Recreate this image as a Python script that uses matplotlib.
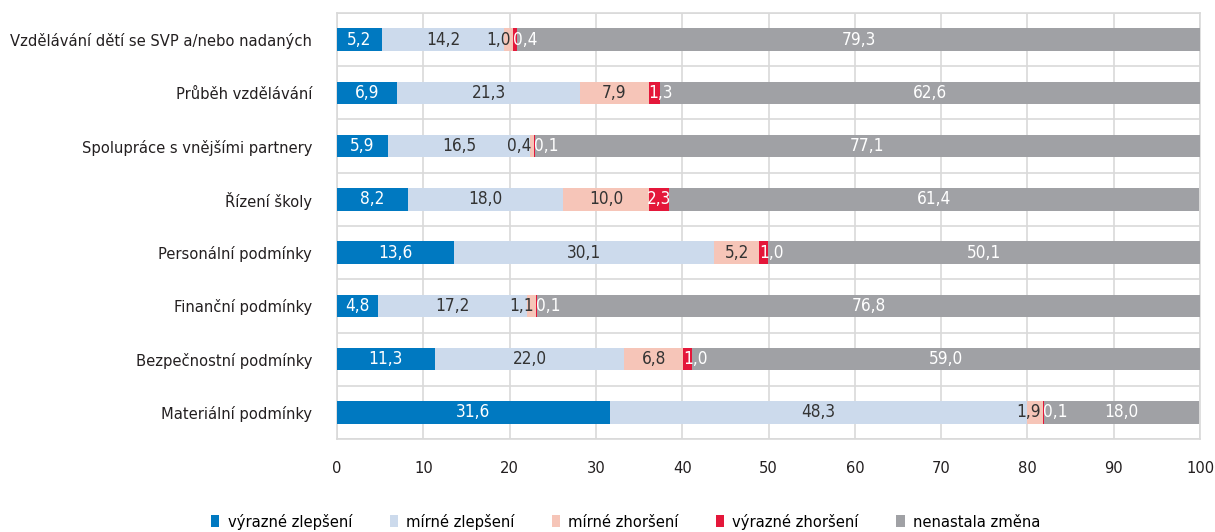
import numpy as np
import matplotlib
matplotlib.use("Agg")
from matplotlib import pyplot as plt
from matplotlib import font_manager
from matplotlib.font_manager import FontProperties
from matplotlib.patches import Patch

categories = [
    "Vzdělávání dětí se SVP a/nebo nadaných",
    "Průběh vzdělávání",
    "Spolupráce s vnějšími partnery",
    "Řízení školy",
    "Personální podmínky",
    "Finanční podmínky",
    "Bezpečnostní podmínky",
    "Materiální podmínky",
]
series_names = ["výrazné zlepšení", "mírné zlepšení", "mírné zhoršení",
                "výrazné zhoršení", "nenastala změna"]
vyrazne_zlepseni = [5.2, 6.9, 5.9, 8.2, 13.6, 4.8, 11.3, 31.6]
mirne_zlepseni = [14.2, 21.3, 16.5, 18.0, 30.1, 17.2, 22.0, 48.3]
mirne_zhorseni = [1.0, 7.9, 0.4, 10.0, 5.2, 1.1, 6.8, 1.9]
vyrazne_zhorseni = [0.4, 1.3, 0.1, 2.3, 1.0, 0.1, 1.0, 0.1]
nenastala_zmena = [79.3, 62.6, 77.1, 61.4, 50.1, 76.8, 59.0, 18.0]

colors = ["#0079C1", "#CCDAEC", "#F6C5B8", "#E4173A", "#A0A1A5"]
label_colors = ["white", "#333333", "#333333", "white", "white"]

series = [vyrazne_zlepseni, mirne_zlepseni, mirne_zhorseni,
          vyrazne_zhorseni, nenastala_zmena]


def pick_condensed_font():
    """Path of the narrowest regular sans face; the original uses a condensed one."""
    rank = {"extra-condensed": 0, "condensed": 1, "semi-condensed": 2}
    wanted = ["Noto Sans", "Open Sans", "Roboto", "DejaVu Sans", "Lato",
              "Liberation Sans"]
    best = None
    for f in font_manager.fontManager.ttflist:
        if f.style != "normal" or f.weight not in (400, "normal", "regular"):
            continue
        if f.stretch not in rank:
            continue
        key = (rank[f.stretch],
               wanted.index(f.name) if f.name in wanted else 99)
        if best is None or key < best[0]:
            best = (key, f.fname)
    if best is None:
        return font_manager.findfont(FontProperties(family="Roboto"))
    return best[1]


font_path = pick_condensed_font()

fig = plt.figure(figsize=(12.15, 5.32), dpi=100)
ax = fig.add_axes([0.2774, 0.1748, 0.7103, 0.8008])

# scale the text so the longest category label is as wide as in the original
probe = fig.text(0, 0, categories[0], fontproperties=FontProperties(fname=font_path, size=13))
w = probe.get_window_extent(fig.canvas.get_renderer()).width
probe.remove()
fs = float(np.clip(13 * 300 / w, 10, 16))
fp = FontProperties(fname=font_path, size=fs)
fp_val = FontProperties(fname=font_path, size=fs * 1.05)

y = np.arange(len(categories))
left = np.zeros(len(categories))
for k, (vals, col, lcol) in enumerate(zip(series, colors, label_colors)):
    vals = np.array(vals)
    ax.barh(y, vals, left=left, height=0.42, color=col, zorder=3)
    for i, v in enumerate(vals):
        txt = f"{v:.1f}".replace(".", ",")
        x, ha = left[i] + v / 2, "center"
        # narrow segments: push labels apart like the original does
        if k == 2 and v < 2.5:
            x, ha = left[i] + v - 0.3, "right"
        elif k == 3 and v < 2:
            x, ha = left[i], "left"
        ax.text(x, i, txt, ha=ha, va="center", color=lcol,
                fontproperties=fp_val, zorder=4)
    left += vals

ax.set_xlim(0, 100)
ax.set_ylim(len(categories) - 0.5, -0.5)
ax.set_xticks(np.arange(0, 101, 10))
ax.set_yticks(y)
ax.set_yticklabels(categories)
ax.set_yticks(np.arange(-0.5, len(categories), 1), minor=True)
ax.tick_params(axis="both", which="both", length=0, colors="#231F20")
ax.tick_params(axis="x", pad=16)
ax.tick_params(axis="y", pad=18)
for lab in ax.get_xticklabels() + ax.get_yticklabels():
    lab.set_fontproperties(fp)
ax.grid(axis="x", color="#D9D9D9", linewidth=1.2, zorder=0)
ax.grid(axis="y", which="minor", color="#D9D9D9", linewidth=1.2, zorder=0)
for s in ax.spines.values():
    s.set_color("#D9D9D9")
    s.set_linewidth(1.2)

handles = [Patch(facecolor=c, label=n) for c, n in zip(colors, series_names)]
fig.legend(handles=handles, loc="center", bbox_to_anchor=(0.515, 0.019),
           ncol=5, frameon=False, prop=fp, handlelength=0.5,
           handleheight=0.8, handletextpad=0.5, columnspacing=2.3)

fig.savefig("out.png", dpi=100)
